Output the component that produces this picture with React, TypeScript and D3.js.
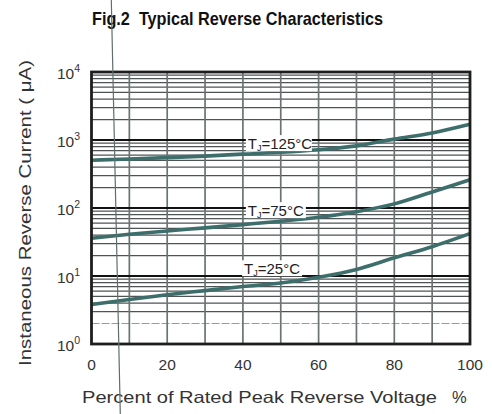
import React from 'react';
import * as d3 from 'd3';

// Percent of rated peak reverse voltage
const percent = [0, 10, 20, 30, 40, 50, 60, 70, 80, 90, 100];

// Reverse current (uA)
const current125 = [505, 525, 550, 580, 620, 660, 720, 820, 1030, 1270, 1700];
const current75 = [36, 41, 46, 51, 57, 64, 73, 88, 115, 172, 260];
const current25 = [3.8, 4.5, 5.3, 6.1, 7.0, 7.9, 9.6, 12.5, 18.5, 27, 42];

const seriesNames = ['125', '75', '25'];
const seriesValues = [current125, current75, current25];
// where each T_J label sits (x in %, y in uA)
const labelX = [49.5, 49.5, 48.5];
const labelY = [900, 93, 13];

const xTicks = [0, 20, 40, 60, 80, 100];
const yTicks = [0, 1, 2, 3, 4];

const W = 492;
const H = 414;
const FONT = '"Liberation Sans", Arial, Helvetica, sans-serif';

const App: React.FC = () => {
  const x = d3.scaleLinear().domain([0, 100]).range([91.5, 470]);
  const y = d3.scaleLog().domain([1, 10000]).range([344, 72]);

  const line = d3
    .line<number>()
    .x((_, i) => x(percent[i]))
    .y((d) => y(d))
    .curve(d3.curveMonotoneX);

  // minor log grid (2..9 in every decade)
  const minor: number[] = [];
  for (let e = 0; e < 4; e++) {
    for (let m = 2; m <= 9; m++) minor.push(m * Math.pow(10, e));
  }
  const vGrid = d3.range(10, 100, 10);

  return (
    <svg width={W} height={H} style={{ position: 'absolute', left: 0, top: 0, background: '#fff' }}>
      <rect width={W} height={H} fill="#fff" />

      {/* title */}
      <text
        x={92}
        y={25}
        fontFamily={FONT}
        fontWeight="bold"
        fontSize={19}
        fill="#111"
        textLength={291}
        lengthAdjust="spacingAndGlyphs"
        style={{ whiteSpace: 'pre' }}
      >
        {'Fig.2  Typical Reverse Characteristics'}
      </text>

      {/* grid */}
      {minor.map((v) => (
        <line
          key={'h' + v}
          x1={x(0)}
          x2={x(100)}
          y1={y(v)}
          y2={y(v)}
          stroke={v === 2 ? '#9a9a9a' : '#4e5454'}
          strokeWidth={v === 2 ? 1 : 1.3}
          strokeDasharray={v === 2 ? '8 2' : undefined}
        />
      ))}
      {vGrid.map((v) => (
        <line key={'v' + v} x1={x(v)} x2={x(v)} y1={y(10000)} y2={y(1)} stroke="#6b7473" strokeWidth={1.7} />
      ))}
      {yTicks.slice(1, 4).map((e) => (
        <line
          key={'d' + e}
          x1={x(0)}
          x2={x(100)}
          y1={y(Math.pow(10, e))}
          y2={y(Math.pow(10, e))}
          stroke="#111"
          strokeWidth={2.2}
        />
      ))}

      {/* curves */}
      {seriesValues.map((vals, i) => (
        <path key={'c' + i} d={line(vals) || ''} fill="none" stroke="#3e6e6b" strokeWidth={3.6} />
      ))}

      {/* T_J labels */}
      {seriesNames.map((n, i) => (
        <g key={'l' + i}>
          <rect x={x(labelX[i]) - 33} y={y(labelY[i]) - 8} width={n.length === 3 ? 66 : 60} height={16} fill="#fff" />
          <text
            x={x(labelX[i]) - 31}
            y={y(labelY[i]) + 6}
            fontFamily={FONT}
            fontSize={15}
            fill="#222"
          >
            T<tspan fontSize={9} dy={2}>J</tspan>
            <tspan dy={-2}>={n}°C</tspan>
          </text>
        </g>
      ))}

      {/* frame */}
      <rect
        x={x(0)}
        y={y(10000)}
        width={x(100) - x(0)}
        height={y(1) - y(10000)}
        fill="none"
        stroke="#1e1e1e"
        strokeWidth={2.8}
      />

      {/* y tick labels */}
      {yTicks.map((e) => (
        <text key={'yt' + e} x={57} y={y(Math.pow(10, e)) + 7} fontFamily={FONT} fontSize={15.5} fill="#333">
          10<tspan fontSize={10.5} dy={-7}>{e}</tspan>
        </text>
      ))}

      {/* x tick labels */}
      {xTicks.map((v) => (
        <text key={'xt' + v} x={x(v)} y={370} textAnchor="middle" fontFamily={FONT} fontSize={15.5} fill="#333">
          {v}
        </text>
      ))}

      {/* axis titles */}
      <text x={82} y={403} fontFamily={FONT} fontSize={16.5} fill="#333" textLength={355} lengthAdjust="spacingAndGlyphs">
        Percent of Rated Peak Reverse Voltage
      </text>
      <text x={452} y={403} fontFamily={FONT} fontSize={16.5} fill="#333">
        %
      </text>
      <text
        transform="translate(31,213) rotate(-90)"
        textAnchor="middle"
        fontFamily={FONT}
        fontSize={16.5}
        fill="#333"
        textLength={306}
        lengthAdjust="spacingAndGlyphs"
      >
        Instaneous Reverse Current ( μA)
      </text>

      {/* stray scan line crossing the sheet */}
      <line x1={111.3} y1={0} x2={120.3} y2={414} stroke="#5f6f6d" strokeWidth={1.2} />
    </svg>
  );
};

export default App;
